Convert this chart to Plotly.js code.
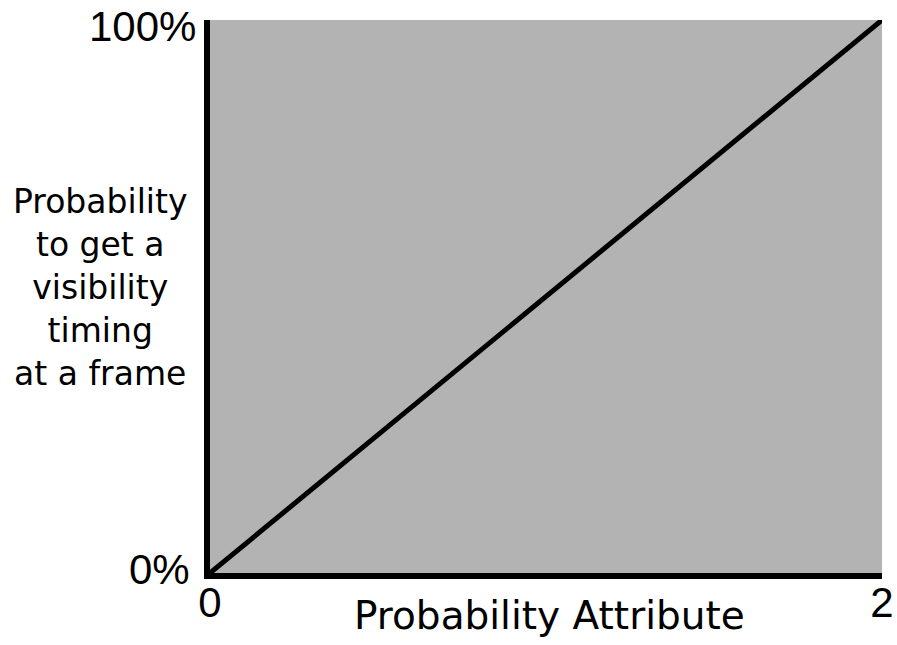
<!DOCTYPE html>
<html>
<head>
<meta charset="utf-8">
<script src="https://cdn.plot.ly/plotly-3.0.1.min.js"></script>
<style>html,body{margin:0;padding:0;background:#fff;}#chart{width:897px;height:645px;}</style>
</head>
<body>
<div id="chart"></div>
<script>
// Data
const xValues = [0, 2];
const yValues = [0, 1];
const xTickVals = [0, 2];
const xTickText = ['0', '2'];
const yTickVals = [0, 1];
const yTickText = ['0%', '100%'];
const xTitle = 'Probability Attribute';
const yTitleLines = ['Probability', 'to get a', 'visibility', 'timing', 'at a frame'];

const trace = {
  x: xValues,
  y: yValues,
  type: 'scatter',
  mode: 'lines',
  line: {color: '#000000', width: 5},
  cliponaxis: false,
  hoverinfo: 'skip'
};

const tickFont = {family: 'Liberation Sans, Arial, sans-serif', size: 42, color: '#000'};

// y tick labels drawn as annotations for exact placement
const yTickShift = {0: {xs: -18, ys: 4}, 1: {xs: -12, ys: -6}};
const yTickAnnotations = yTickVals.map((v, i) => ({
  text: yTickText[i],
  xref: 'paper', yref: 'y',
  x: 0, y: v,
  xanchor: 'right', yanchor: 'middle',
  xshift: yTickShift[v].xs, yshift: yTickShift[v].ys,
  showarrow: false,
  font: tickFont
}));

const layout = {
  width: 897,
  height: 645,
  margin: {l: 210, r: 15, t: 20, b: 72},
  paper_bgcolor: '#ffffff',
  plot_bgcolor: '#b3b3b3',
  showlegend: false,
  xaxis: {
    range: [0, 2],
    tickvals: xTickVals,
    ticktext: xTickText,
    showgrid: false,
    zeroline: false,
    showline: true,
    linecolor: '#000000',
    linewidth: 6,
    ticks: '',
    ticklabelstandoff: -12,
    ticklabeloverflow: 'allow',
    tickfont: tickFont,
    fixedrange: true
  },
  yaxis: {
    range: [0, 1],
    showticklabels: false,
    showgrid: false,
    zeroline: false,
    showline: true,
    linecolor: '#000000',
    linewidth: 6,
    ticks: '',
    fixedrange: true
  },
  annotations: yTickAnnotations.concat([{
    text: yTitleLines.join('<br>'),
    xref: 'paper', yref: 'paper',
    x: -0.164, y: 0.517,
    xanchor: 'center', yanchor: 'middle',
    showarrow: false,
    align: 'center',
    font: {family: 'DejaVu Sans, sans-serif', size: 33, color: '#000'}
  }, {
    text: xTitle,
    xref: 'paper', yref: 'paper',
    x: 0.5, y: 0,
    xanchor: 'center', yanchor: 'middle',
    xshift: 3, yshift: -42,
    showarrow: false,
    font: {family: 'DejaVu Sans, sans-serif', size: 39, color: '#000'}
  }])
};

Plotly.newPlot('chart', [trace], layout, {displayModeBar: false, staticPlot: true});
</script>
</body>
</html>
